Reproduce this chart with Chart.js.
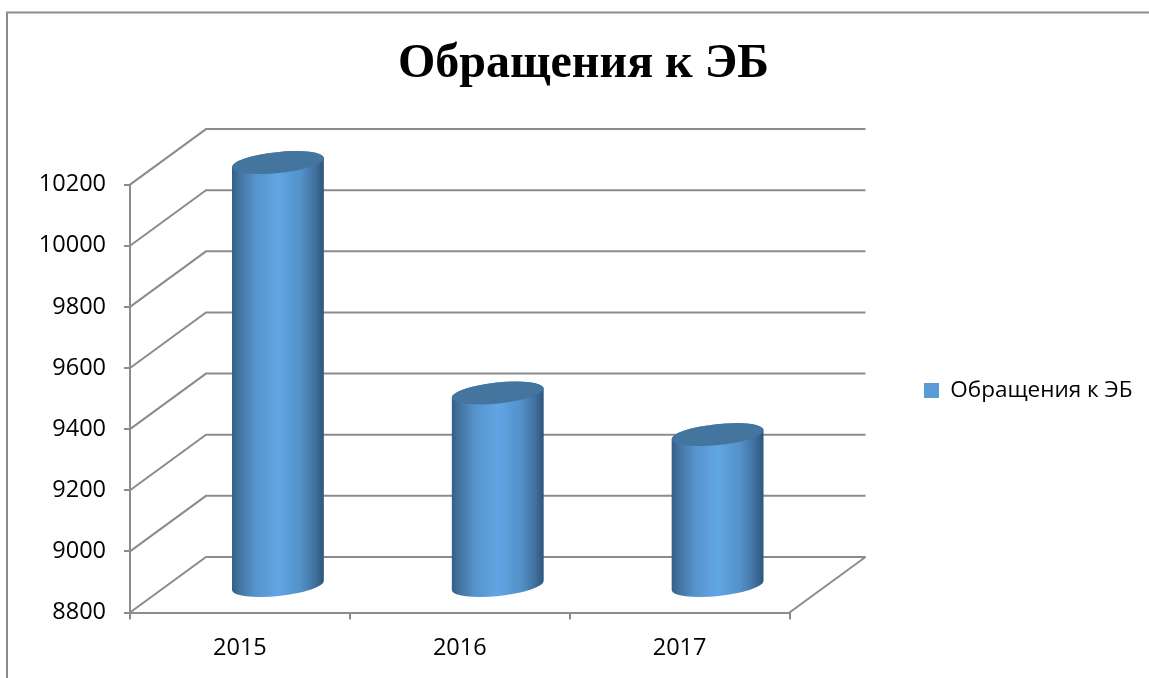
<!DOCTYPE html>
<html><head><meta charset="utf-8">
<style>html,body{margin:0;padding:0;background:#fff}canvas{display:block}</style>
<script src="https://cdn.jsdelivr.net/npm/chart.js@4"></script>
</head><body>
<canvas id="c" width="1149" height="678" style="width:1149px;height:678px"></canvas>
<script>
const categories = ["2015", "2016", "2017"];
const seriesName = "Обращения к ЭБ";
const seriesValues = [10187, 9433, 9297];
const axisMin = 8800, axisMax = 10200, axisStep = 200;
const titleText = "Обращения к ЭБ";

const GRID = "#8c8c8c";
const BACK = {x: 76, y: -55.5};
const MID = {x: 38, y: -26};

const scene = {
  id: "scene",
  afterLayout(chart) {
    const l = chart.legend;
    l.left += 124.5; l.right += 124.5; l.top += 51.5; l.bottom += 51.5;
    l.adjustHitBoxes && l.adjustHitBoxes();
    const t = chart.titleBlock;
    t.left += 74.5; t.right += 74.5;
  },
  beforeDraw(chart) {
    const c = chart.ctx;
    c.save();
    c.fillStyle = "#fff"; c.fillRect(0, 0, chart.width, chart.height);
    c.strokeStyle = GRID; c.lineWidth = 2;
    c.beginPath(); c.moveTo(7, 678); c.lineTo(7, 12.5); c.lineTo(1149, 12.5); c.stroke();
    c.restore();
  },
  beforeDatasetsDraw(chart) {
    const c = chart.ctx, sx = chart.scales.x, sy = chart.scales.y;
    c.save();
    c.strokeStyle = GRID; c.lineWidth = 2;
    for (const t of sy.ticks) {
      const y = sy.getPixelForValue(t.value);
      c.beginPath();
      c.moveTo(sx.left, y);
      c.lineTo(sx.left + BACK.x, y + BACK.y);
      c.lineTo(sx.right + BACK.x, y + BACK.y);
      c.stroke();
    }
    const y0 = sy.getPixelForValue(axisMin);
    c.beginPath();
    c.moveTo(sx.right, y0);
    c.lineTo(sx.right + BACK.x, y0 + BACK.y);
    c.stroke();
    c.restore();
  },
  beforeDatasetDraw(chart) {
    const c = chart.ctx;
    const rot = -5.9 * Math.PI / 180;
    for (const bar of chart.getDatasetMeta(0).data) {
      const p = bar.getProps(["x", "y", "base", "width"], true);
      const cx = p.x + MID.x, top = p.y + MID.y, bot = p.base + MID.y;
      const a = p.width / 2 + 0.2, b = 10.5;
      const g = c.createLinearGradient(cx - p.width / 2, 0, cx + p.width / 2, 0);
      g.addColorStop(0, "#335f87");
      g.addColorStop(0.08, "#42739f");
      g.addColorStop(0.25, "#5693cb");
      g.addColorStop(0.5, "#60a6e4");
      g.addColorStop(0.75, "#5391c9");
      g.addColorStop(0.9, "#41729f");
      g.addColorStop(1, "#2d567a");
      c.save();
      c.fillStyle = g;
      c.beginPath();
      c.ellipse(cx, bot, a, b, rot, 0, Math.PI, false);
      c.ellipse(cx, top, a, b, rot, Math.PI, 2 * Math.PI, false);
      c.closePath();
      c.fill();
      c.fillStyle = "#44759f";
      c.beginPath();
      c.ellipse(cx, top, a, b, rot, 0, 2 * Math.PI);
      c.fill();
      c.restore();
    }
    return false;
  }
};

const labelFont = {family: "'Open Sans'", size: 23.5};

new Chart(document.getElementById("c"), {
  type: "bar",
  data: {
    labels: categories,
    datasets: [{
      label: seriesName,
      data: seriesValues,
      base: axisMin,
      backgroundColor: "#5b9bd5",
      borderWidth: 0,
      categoryPercentage: 1,
      barPercentage: 92 / 220
    }]
  },
  options: {
    responsive: false,
    animation: false,
    events: [],
    layout: {padding: {left: 0, right: 131, top: 0, bottom: 0}},
    plugins: {
      tooltip: {enabled: false},
      title: {
        display: true,
        text: titleText,
        color: "#000",
        font: {family: "'Liberation Serif'", size: 48, weight: "bold"},
        padding: {top: 36, bottom: 91}
      },
      legend: {
        position: "right",
        labels: {
          boxWidth: 15, boxHeight: 15, padding: 10,
          color: "#000",
          font: {family: "'Open Sans'", size: 22.5}
        }
      }
    },
    scales: {
      x: {
        offset: true,
        afterFit(s) { s.height = 65.5; },
        grid: {offset: true, drawOnChartArea: false, drawTicks: true, tickLength: 7, color: GRID, lineWidth: 2},
        border: {color: GRID, width: 2},
        ticks: {color: "#000", font: labelFont, padding: 15, maxRotation: 0}
      },
      y: {
        min: axisMin,
        max: axisMax,
        afterFit(s) { s.width = 130; },
        grid: {drawOnChartArea: false, drawTicks: true, tickLength: 6, color: GRID, lineWidth: 2},
        border: {color: GRID, width: 2},
        ticks: {color: "#000", font: labelFont, stepSize: axisStep, padding: 18, callback: v => String(v)}
      }
    }
  },
  plugins: [scene]
});
</script>
</body></html>
